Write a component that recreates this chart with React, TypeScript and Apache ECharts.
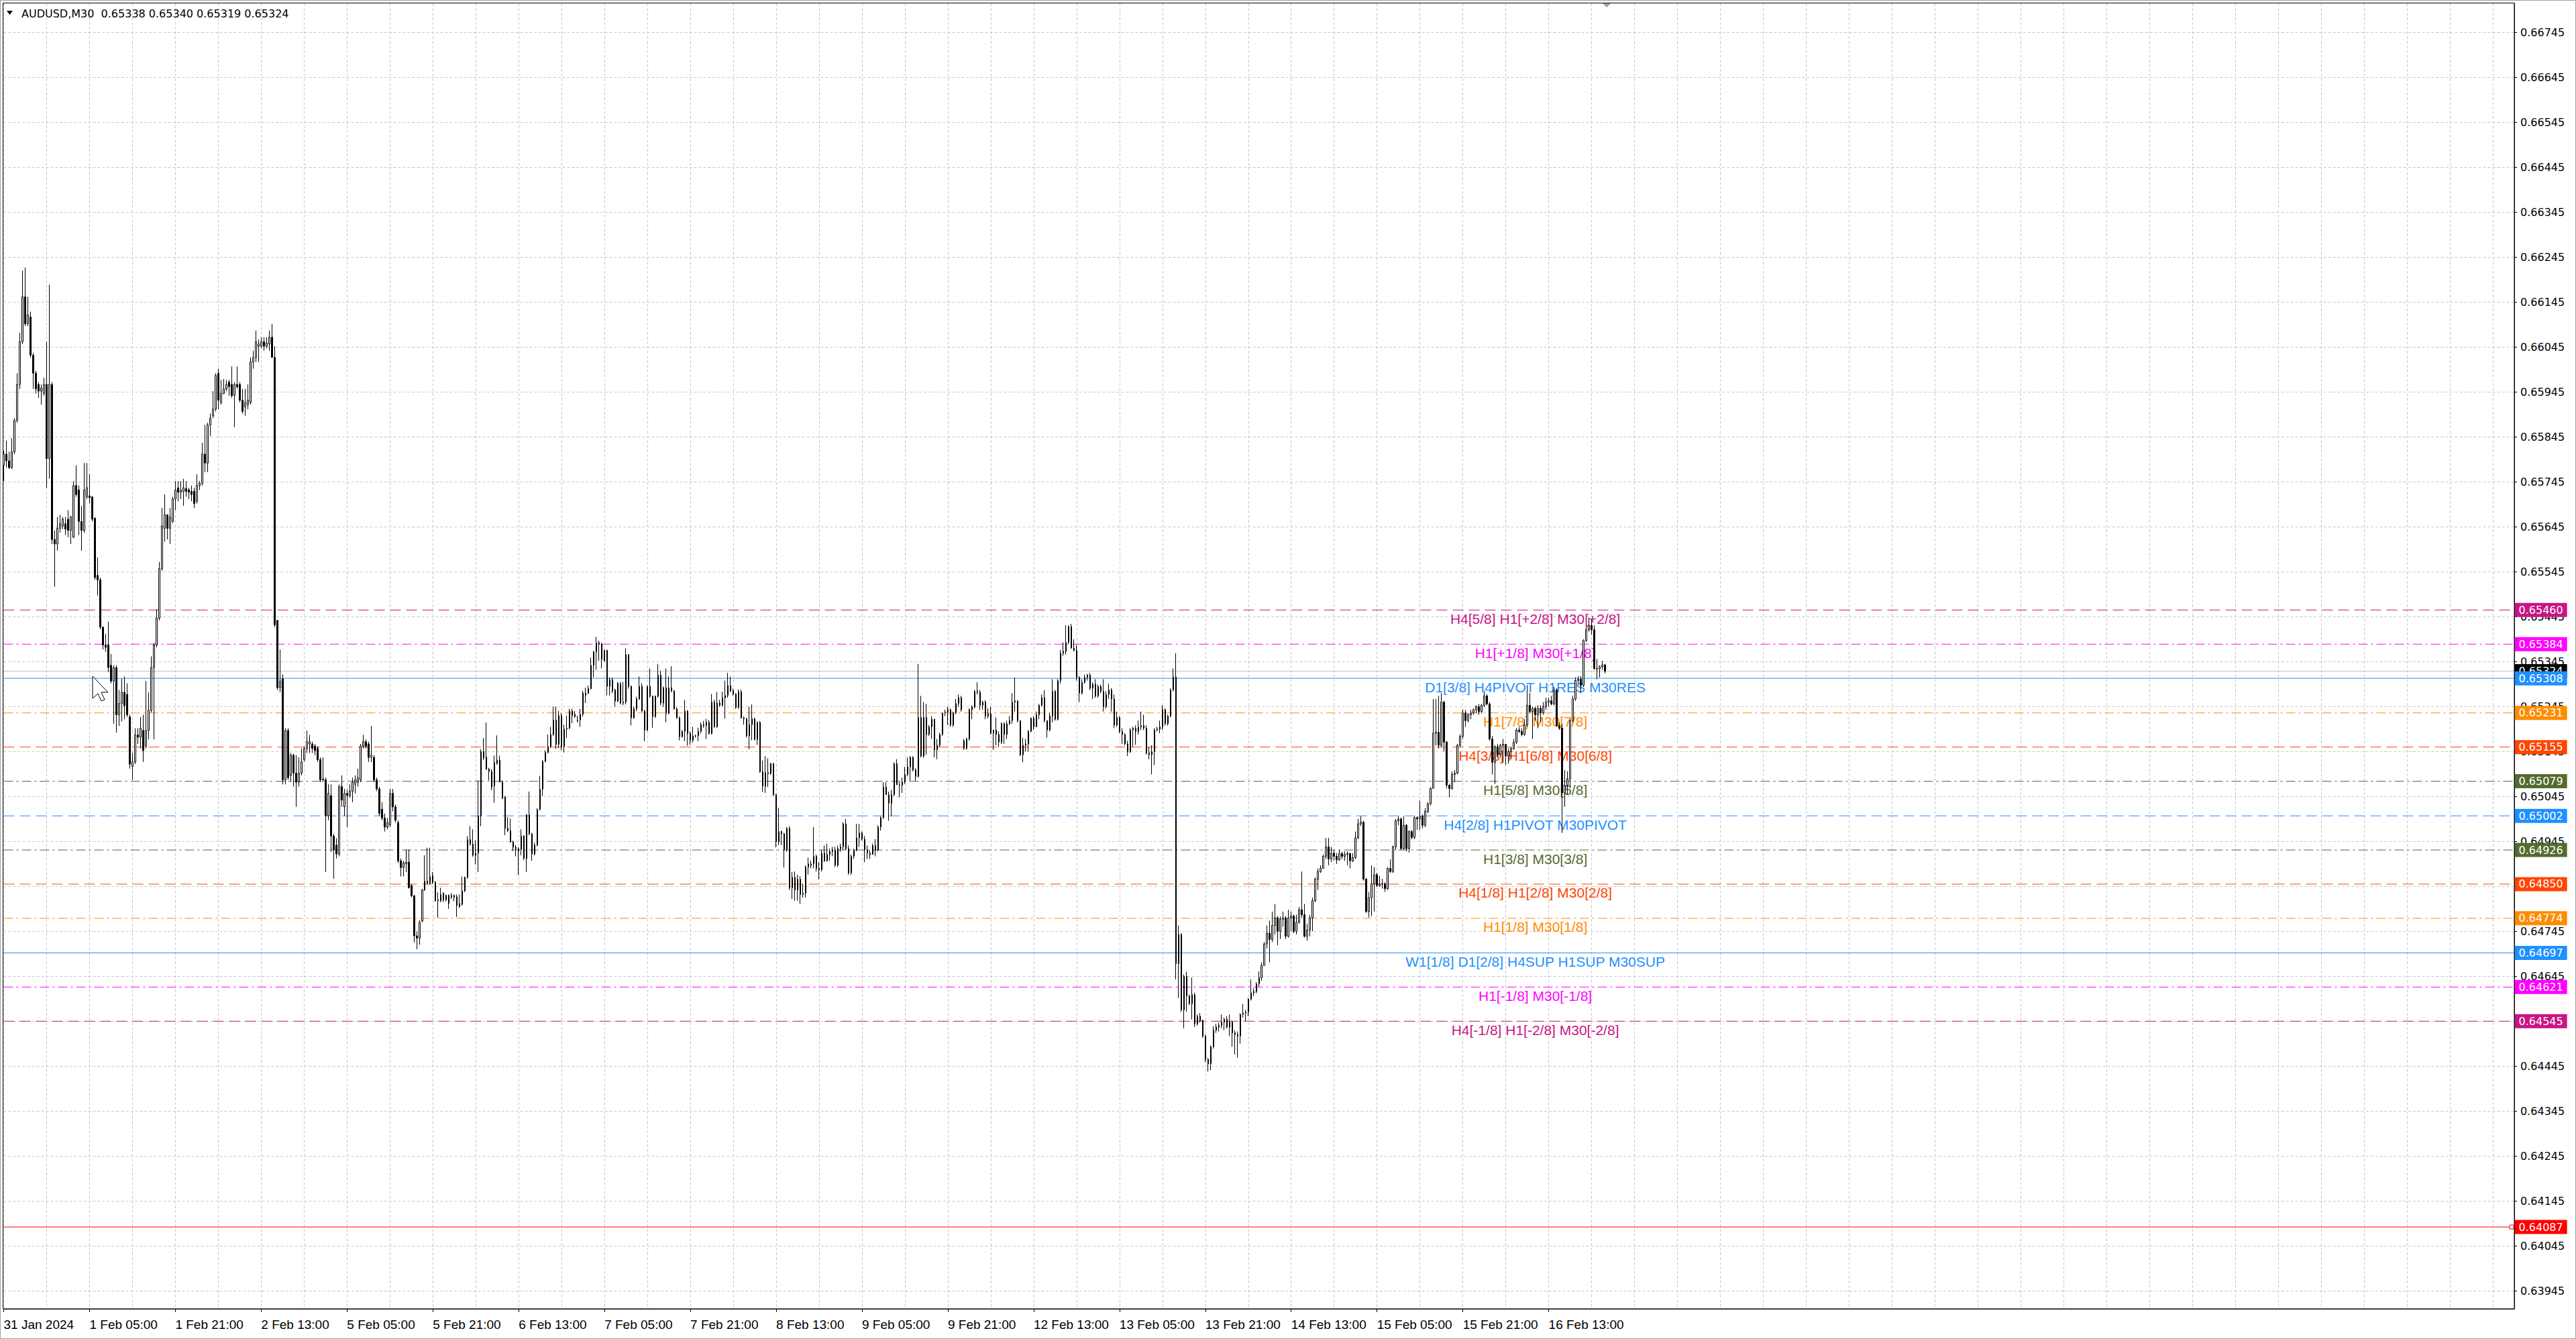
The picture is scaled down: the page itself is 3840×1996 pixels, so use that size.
import React, { useEffect, useRef } from 'react';
import * as echarts from 'echarts';

const TITLE = 'AUDUSD,M30  0.65338 0.65340 0.65319 0.65324';

const TIME_LABELS = [
  '31 Jan 2024', '1 Feb 05:00', '1 Feb 21:00', '2 Feb 13:00', '5 Feb 05:00', '5 Feb 21:00',
  '6 Feb 13:00', '7 Feb 05:00', '7 Feb 21:00', '8 Feb 13:00', '9 Feb 05:00', '9 Feb 21:00',
  '12 Feb 13:00', '13 Feb 05:00', '13 Feb 21:00', '14 Feb 13:00', '15 Feb 05:00', '15 Feb 21:00',
  '16 Feb 13:00',
];
const BARS_PER_LABEL = 32;
const SLOT_COUNT = 937;

const PRICE_TICKS = [
  0.63945, 0.64045, 0.64145, 0.64245, 0.64345, 0.64445, 0.64545, 0.64645, 0.64745, 0.64845,
  0.64945, 0.65045, 0.65145, 0.65245, 0.65345, 0.65445, 0.65545, 0.65645, 0.65745, 0.65845,
  0.65945, 0.66045, 0.66145, 0.66245, 0.66345, 0.66445, 0.66545, 0.66645, 0.66745,
];
const Y_MIN = 0.63905;
const Y_MAX = 0.6681;

// M30 candles, in points (1 point = 0.00001): [open, high, low, close]
const CANDLES = [
  [65782,65814,65747,65807],[65807,65837,65777,65792],[65792,65812,65774,65777],[65777,65842,65774,65812],
  [65812,65887,65807,65882],[65882,65987,65877,65962],[65962,66077,65952,66057],[66057,66215,66052,66157],
  [66157,66222,66092,66097],[66097,66157,66092,66117],[66112,66124,66022,66027],[66027,66032,65952,65987],
  [65987,65992,65942,65952],[65962,65967,65932,65947],[65947,65962,65917,65954],[65942,65977,65937,65962],
  [65962,66057,65732,65797],[65797,66184,65752,65962],[65962,65967,65607,65617],[65617,65637,65512,65607],
  [65607,65667,65592,65642],[65642,65672,65632,65652],[65647,65667,65640,65662],[65652,65667,65627,65640],
  [65662,65682,65622,65637],[65637,65670,65607,65667],[65622,65747,65620,65737],[65737,65782,65712,65717],
  [65727,65737,65627,65657],[65657,65692,65592,65637],[65637,65787,65632,65727],[65712,65787,65707,65732],
  [65714,65762,65697,65710],[65712,65712,65657,65662],[65664,65667,65527,65532],[65537,65577,65492,65527],
  [65527,65532,65417,65422],[65422,65422,65372,65382],[65382,65407,65367,65377],[65382,65434,65322,65332],
  [65337,65362,65297,65302],[65302,65337,65207,65332],[65332,65337,65187,65227],[65227,65282,65202,65252],
  [65252,65307,65212,65277],[65277,65312,65217,65247],[65272,65297,65222,65227],[65222,65227,65107,65117],
  [65112,65142,65082,65122],[65122,65197,65117,65182],[65182,65197,65162,65177],[65177,65222,65152,65197],
  [65192,65227,65122,65147],[65157,65302,65152,65192],[65192,65277,65172,65237],[65237,65357,65232,65332],
  [65332,65387,65172,65382],[65382,65462,65377,65442],[65442,65567,65437,65552],[65552,65687,65547,65647],
  [65642,65717,65612,65672],[65672,65672,65617,65642],[65642,65687,65607,65667],[65657,65712,65654,65707],
  [65707,65747,65682,65727],[65732,65747,65702,65722],[65722,65747,65707,65727],[65724,65752,65692,65732],
  [65730,65747,65712,65724],[65727,65732,65707,65722],[65724,65737,65702,65717],[65724,65732,65687,65697],
  [65702,65762,65697,65737],[65737,65747,65727,65742],[65742,65832,65737,65807],[65807,65872,65767,65787],
  [65787,65877,65767,65872],[65872,65897,65847,65887],[65892,65947,65887,65907],[65907,65987,65902,65982],
  [65987,65997,65907,65927],[65922,65972,65917,65942],[65942,65974,65940,65952],[65952,65972,65947,65962],
  [65967,65972,65937,65957],[65962,66002,65932,65937],[65937,65967,65867,65962],[65962,66002,65952,65957],
  [65962,65967,65922,65927],[65927,65952,65897,65902],[65912,65952,65892,65922],[65917,65962,65907,65927],
  [65922,66022,65917,66012],[66012,66037,65997,66022],[66022,66082,66012,66057],[66047,66062,66012,66052],
  [66047,66067,66042,66057],[66057,66067,66037,66047],[66047,66067,66042,66054],[66052,66082,66037,66067],
  [66067,66097,66022,66022],[66022,66047,65422,65427],[65437,65437,65282,65287],[65287,65372,65277,65302],
  [65307,65317,65072,65082],[65082,65197,65072,65192],[65192,65197,65082,65087],[65092,65142,65077,65137],
  [65137,65140,65067,65097],[65097,65137,65022,65077],[65077,65132,65067,65097],[65097,65152,65092,65122],
  [65127,65157,65122,65152],[65152,65192,65142,65167],[65162,65182,65142,65167],[65162,65167,65142,65152],
  [65157,65162,65137,65147],[65152,65157,65122,65127],[65127,65132,65077,65082],[65082,65132,65077,65084],
  [65082,65087,64877,65002],[65002,65072,64992,65052],[65047,65072,64922,64957],[64957,64962,64862,64927],
  [64937,64952,64907,64917],[64917,65072,64912,65067],[65067,65092,65022,65037],[65022,65062,65002,65052],
  [65052,65060,64977,65047],[65047,65072,65042,65057],[65057,65087,65032,65077],[65072,65092,65052,65082],
  [65077,65107,65067,65087],[65082,65162,65077,65157],[65157,65182,65152,65167],[65167,65172,65152,65157],
  [65162,65167,65122,65132],[65132,65202,65122,65137],[65132,65137,65077,65082],[65082,65087,65057,65062],
  [65062,65067,65002,65007],[65017,65032,64992,64997],[64997,65007,64967,64977],[64977,64997,64972,64987],
  [64982,65062,64977,65052],[65052,65062,65012,65022],[65022,65027,64987,64992],[64987,64992,64897,64902],
  [64902,64907,64867,64887],[64887,64902,64867,64897],[64895,64927,64877,64899],[64899,64927,64840,64842],
  [64847,64850,64821,64824],[64824,64826,64720,64735],[64735,64745,64705,64730],[64730,64770,64715,64765],
  [64768,64840,64765,64837],[64837,64914,64835,64857],[64852,64931,64849,64857],[64852,64931,64849,64867],
  [64869,64877,64851,64854],[64854,64857,64811,64813],[64815,64832,64775,64813],[64813,64842,64810,64827],
  [64830,64832,64810,64815],[64815,64827,64812,64825],[64825,64827,64795,64807],[64821,64830,64817,64825],
  [64821,64827,64812,64825],[64822,64827,64777,64802],[64800,64827,64797,64807],[64805,64867,64802,64835],
  [64835,64867,64832,64865],[64865,64957,64862,64949],[64949,64979,64936,64939],[64939,64972,64911,64914],
  [64914,64947,64894,64919],[64919,65081,64877,65001],[65001,65150,64979,65145],[65145,65175,65126,65131],
  [65133,65210,65104,65106],[65106,65109,65081,65101],[65101,65106,65059,65066],[65069,65136,65031,65121],
  [65118,65181,65116,65126],[65126,65136,65076,65078],[65078,65081,65039,65041],[65044,65046,64959,64974],
  [64974,64999,64966,64969],[64969,64996,64942,64944],[64944,64947,64924,64932],[64932,64937,64912,64929],
  [64924,64932,64870,64929],[64927,64972,64914,64957],[64957,64959,64904,64907],[64907,65006,64877,65004],
  [65004,65056,64959,64962],[64962,64964,64902,64917],[64917,64942,64914,64937],[64937,65019,64934,65016],
  [65016,65091,65014,65061],[65061,65126,65046,65123],[65123,65148,65121,65143],[65143,65183,65141,65156],
  [65156,65200,65153,65183],[65183,65245,65180,65215],[65215,65245,65151,65161],[65161,65235,65153,65225],
  [65225,65230,65148,65156],[65156,65205,65143,65195],[65195,65225,65175,65197],[65197,65240,65195,65235],
  [65225,65240,65208,65235],[65228,65235,65220,65223],[65213,65225,65210,65215],[65215,65240,65200,65228],
  [65228,65280,65223,65275],[65270,65287,65253,65275],[65275,65292,65273,65285],[65285,65354,65283,65337],
  [65337,65369,65310,65367],[65367,65400,65327,65387],[65387,65392,65347,65384],[65384,65387,65330,65350],
  [65347,65372,65345,65370],[65370,65372,65270,65290],[65290,65310,65270,65305],[65305,65310,65275,65280],
  [65282,65285,65245,65257],[65257,65300,65255,65297],[65295,65300,65250,65253],[65253,65300,65248,65255],
  [65255,65375,65250,65361],[65361,65362,65285,65290],[65290,65292,65203,65220],[65220,65245,65218,65240],
  [65240,65267,65235,65262],[65262,65312,65260,65290],[65290,65297,65233,65235],[65235,65238,65168,65193],
  [65193,65292,65190,65290],[65290,65330,65265,65268],[65268,65270,65198,65223],[65223,65270,65220,65268],
  [65268,65340,65265,65315],[65315,65325,65248,65253],[65253,65290,65245,65287],[65287,65330,65210,65230],
  [65230,65312,65228,65287],[65287,65335,65277,65280],[65280,65282,65238,65240],[65240,65243,65218,65220],
  [65220,65223,65170,65178],[65178,65193,65176,65190],[65190,65260,65168,65235],[65235,65237,65158,65185],
  [65185,65190,65160,65170],[65170,65200,65165,65180],[65180,65183,65176,65180],[65180,65198,65168,65190],
  [65190,65210,65185,65205],[65205,65213,65198,65203],[65203,65218,65173,65210],[65210,65215,65183,65185],
  [65185,65273,65183,65255],[65255,65260,65198,65200],[65200,65278,65198,65253],[65253,65260,65245,65248],
  [65248,65278,65245,65265],[65265,65303,65218,65270],[65270,65320,65265,65292],[65292,65312,65277,65280],
  [65280,65285,65270,65273],[65273,65275,65240,65243],[65243,65283,65240,65278],[65278,65283,65218,65220],
  [65220,65223,65205,65218],[65218,65220,65176,65180],[65180,65245,65150,65205],[65205,65250,65170,65218],
  [65218,65220,65170,65172],[65172,65212,65160,65210],[65210,65213,65098,65100],[65100,65125,65055,65068],
  [65068,65135,65053,65098],[65098,65130,65066,65096],[65096,65120,65093,65118],[65118,65120,65046,65049],
  [65049,65051,64932,64944],[64944,65020,64937,64967],[64967,64969,64937,64962],[64962,64964,64887,64927],
  [64927,64977,64922,64974],[64974,64979,64837,64842],[64842,64877,64817,64865],[64865,64878,64813,64837],
  [64837,64871,64813,64861],[64861,64868,64806,64827],[64827,64850,64820,64830],[64830,64892,64820,64888],
  [64888,64909,64871,64895],[64892,64902,64885,64895],[64895,64977,64885,64912],[64912,64916,64878,64885],
  [64885,64899,64861,64882],[64882,64926,64878,64919],[64919,64936,64899,64902],[64902,64940,64900,64916],
  [64916,64929,64902,64923],[64923,64933,64912,64926],[64926,64933,64888,64892],[64892,64936,64888,64929],
  [64929,64940,64922,64933],[64933,64988,64926,64984],[64984,64995,64926,64929],[64929,64936,64871,64875],
  [64875,64916,64871,64912],[64912,64929,64906,64926],[64926,64984,64923,64953],[64953,64984,64933,64964],
  [64964,64967,64947,64950],[64950,64957,64899,64926],[64926,64936,64906,64919],[64919,64925,64906,64916],
  [64916,64940,64916,64936],[64936,64950,64912,64926],[64926,64981,64923,64977],[64977,65001,64969,64998],
  [64998,65077,64995,65066],[65066,65077,65049,65049],[65049,65056,64991,65030],[65030,65060,65001,65049],
  [65049,65121,65046,65118],[65118,65128,65071,65071],[65071,65077,65043,65070],[65070,65087,65053,65077],
  [65077,65111,65073,65094],[65094,65132,65090,65111],[65111,65135,65080,65132],[65132,65135,65101,65104],
  [65104,65108,65080,65090],[65090,65340,65087,65221],[65221,65269,65132,65135],[65135,65255,65131,65221],
  [65221,65251,65138,65183],[65183,65204,65180,65200],[65200,65224,65173,65217],[65217,65217,65132,65149],
  [65149,65173,65128,65159],[65159,65187,65155,65183],[65183,65231,65180,65231],[65231,65238,65224,65233],
  [65233,65245,65204,65238],[65238,65241,65200,65204],[65204,65234,65200,65231],[65231,65262,65228,65252],
  [65252,65272,65245,65265],[65265,65269,65234,65238],[65169,65173,65149,65152],[65152,65176,65149,65173],
  [65173,65241,65169,65238],[65238,65248,65217,65244],[65244,65282,65241,65279],[65279,65299,65272,65277],
  [65277,65282,65238,65248],[65248,65258,65238,65255],[65255,65259,65217,65224],[65224,65241,65219,65229],
  [65229,65245,65183,65186],[65186,65193,65149,65193],[65193,65221,65159,65183],[65183,65190,65155,65166],
  [65166,65210,65162,65207],[65207,65210,65162,65183],[65183,65214,65173,65207],[65207,65224,65204,65214],
  [65214,65275,65207,65255],[65255,65310,65234,65258],[65258,65258,65210,65214],[65214,65214,65135,65138],
  [65138,65176,65121,65159],[65159,65173,65145,65162],[65162,65193,65145,65190],[65190,65221,65188,65219],
  [65219,65224,65193,65200],[65200,65234,65200,65227],[65227,65251,65217,65248],[65248,65272,65245,65265],
  [65265,65282,65210,65214],[65214,65214,65176,65193],[65193,65231,65190,65224],[65224,65306,65210,65279],
  [65279,65282,65214,65217],[65217,65306,65214,65303],[65303,65371,65296,65364],[65364,65388,65358,65368],
  [65368,65426,65361,65388],[65388,65426,65385,65423],[65423,65429,65375,65375],[65375,65395,65368,65370],
  [65370,65382,65303,65310],[65310,65313,65255,65275],[65275,65306,65272,65299],[65299,65316,65296,65310],
  [65310,65318,65303,65315],[65315,65320,65282,65286],[65286,65299,65262,65295],[65295,65306,65265,65269],
  [65269,65294,65265,65290],[65290,65294,65275,65279],[65279,65306,65234,65245],[65245,65279,65241,65272],
  [65272,65296,65262,65282],[65282,65286,65234,65262],[65262,65272,65197,65204],[65204,65234,65200,65221],
  [65221,65224,65186,65190],[65190,65197,65162,65183],[65183,65186,65159,65162],[65162,65169,65135,65145],
  [65145,65197,65142,65193],[65193,65200,65156,65197],[65197,65203,65160,65190],[65190,65214,65183,65200],
  [65200,65234,65193,65203],[65203,65227,65193,65197],[65197,65203,65138,65142],[65142,65155,65128,65138],
  [65138,65159,65094,65145],[65145,65197,65115,65193],[65193,65200,65190,65195],[65195,65214,65186,65200],
  [65200,65248,65193,65238],[65238,65241,65203,65207],[65207,65227,65203,65224],[65224,65286,65221,65282],
  [65282,65330,65279,65311],[65311,65364,64638,64673],[64673,64758,64597,64738],[64738,64741,64566,64570],
  [64570,64649,64529,64645],[64645,64655,64566,64601],[64601,64604,64581,64584],[64584,64642,64549,64604],
  [64604,64608,64532,64539],[64539,64560,64535,64556],[64556,64563,64542,64546],[64546,64549,64508,64512],
  [64512,64515,64454,64460],[64460,64463,64433,64450],[64450,64491,64436,64488],[64488,64534,64484,64525],
  [64525,64539,64519,64532],[64532,64542,64522,64536],[64536,64560,64529,64543],[64543,64553,64525,64549],
  [64549,64556,64529,64532],[64532,64560,64512,64543],[64543,64546,64488,64519],[64519,64525,64471,64515],
  [64515,64522,64464,64512],[64512,64563,64495,64560],[64560,64583,64553,64563],[64563,64570,64545,64565],
  [64565,64597,64556,64594],[64594,64638,64591,64608],[64608,64618,64601,64611],[64611,64632,64607,64628],
  [64628,64656,64622,64642],[64642,64676,64635,64669],[64669,64721,64669,64717],[64717,64758,64707,64741],
  [64741,64769,64676,64727],[64727,64789,64721,64758],[64758,64806,64738,64775],[64775,64779,64714,64745],
  [64745,64778,64728,64772],[64772,64789,64755,64775],[64775,64779,64728,64734],[64734,64793,64731,64775],
  [64775,64789,64745,64779],[64779,64782,64741,64745],[64745,64782,64738,64765],[64765,64799,64762,64793],
  [64793,64878,64775,64782],[64782,64806,64731,64734],[64734,64762,64724,64748],[64748,64782,64734,64775],
  [64775,64820,64745,64813],[64813,64865,64810,64861],[64861,64885,64837,64878],[64878,64892,64875,64885],
  [64885,64916,64885,64912],[64912,64953,64906,64933],[64933,64953,64892,64906],[64906,64933,64899,64919],
  [64919,64926,64902,64912],[64912,64919,64895,64904],[64904,64926,64902,64918],[64918,64922,64906,64912],
  [64912,64923,64902,64916],[64916,64923,64892,64918],[64918,64920,64885,64902],[64902,64919,64899,64909],
  [64909,64967,64906,64953],[64953,64995,64950,64984],[64984,65001,64979,64988],[64988,64991,64858,64861],
  [64861,64864,64786,64789],[64789,64833,64776,64820],[64820,64892,64779,64851],[64851,64888,64789,64871],
  [64871,64875,64844,64847],[64847,64868,64844,64850],[64850,64862,64840,64851],[64851,64854,64833,64840],
  [64840,64888,64837,64885],[64885,64905,64875,64878],[64878,64936,64875,64933],[64933,64995,64926,64991],
  [64991,65001,64981,64995],[64995,64998,64926,64929],[64929,65001,64926,64981],[64981,64984,64923,64929],
  [64929,64970,64920,64967],[64967,64970,64950,64954],[64954,65001,64950,64998],[64998,65001,64971,64995],
  [64995,65036,64971,65001],[65001,65005,64974,64981],[64981,65019,64977,65012],[65012,65032,65008,65029],
  [65029,65066,65025,65063],[65063,65262,65063,65186],[65186,65262,65159,65188],[65188,65269,65152,65159],
  [65159,65275,65155,65255],[65255,65258,65145,65166],[65166,65169,65063,65070],[65070,65073,65043,65063],
  [65063,65101,65060,65094],[65094,65104,65077,65097],[65097,65162,65094,65159],[65159,65183,65155,65179],
  [65179,65238,65173,65231],[65231,65238,65200,65214],[65214,65231,65210,65227],[65227,65238,65217,65231],
  [65231,65241,65227,65238],[65238,65248,65231,65245],[65245,65251,65227,65234],[65234,65251,65230,65248],
  [65248,65279,65244,65269],[65269,65272,65248,65251],[65251,65255,65169,65173],[65173,65180,65094,65121],
  [65121,65159,65073,65156],[65156,65162,65132,65138],[65138,65162,65132,65159],[65159,65173,65121,65161],
  [65161,65162,65115,65135],[65135,65152,65118,65145],[65145,65155,65128,65152],[65152,65173,65149,65166],
  [65166,65197,65162,65193],[65193,65200,65186,65190],[65190,65197,65179,65183],[65183,65217,65180,65204],
  [65204,65293,65200,65248],[65248,65275,65231,65234],[65234,65245,65173,65241],[65241,65245,65214,65227],
  [65227,65248,65197,65241],[65241,65248,65210,65231],[65231,65255,65227,65245],[65245,65265,65238,65255],
  [65255,65265,65245,65258],[65258,65269,65248,65251],[65251,65289,65248,65282],[65282,65286,65200,65203],
  [65203,65210,65193,65197],[65197,65207,64964,65053],[65053,65104,65022,65070],[65070,65101,65049,65084],
  [65084,65217,65063,65214],[65214,65269,65210,65262],[65262,65310,65258,65303],[65303,65313,65296,65306],
  [65306,65313,65275,65292],[65292,65395,65289,65392],[65392,65423,65389,65416],[65416,65443,65412,65426],
  [65426,65440,65405,65416],[65416,65426,65327,65330],[65330,65351,65306,65329],[65329,65337,65310,65334],
  [65334,65347,65327,65338],[65338,65340,65319,65324],
];

const LEVEL_PRICES = [0.6546, 0.65384, 0.65308, 0.65231, 0.65155, 0.65079, 0.65002, 0.64926, 0.6485, 0.64774, 0.64697, 0.64621, 0.64545];
const LEVEL_TEXTS = [
  'H4[5/8] H1[+2/8] M30[+2/8]',
  'H1[+1/8] M30[+1/8]',
  'D1[3/8] H4PIVOT H1RES M30RES',
  'H1[7/8] M30[7/8]',
  'H4[3/8] H1[6/8] M30[6/8]',
  'H1[5/8] M30[5/8]',
  'H4[2/8] H1PIVOT M30PIVOT',
  'H1[3/8] M30[3/8]',
  'H4[1/8] H1[2/8] M30[2/8]',
  'H1[1/8] M30[1/8]',
  'W1[1/8] D1[2/8] H4SUP H1SUP M30SUP',
  'H1[-1/8] M30[-1/8]',
  'H4[-1/8] H1[-2/8] M30[-2/8]',
];
const LEVEL_COLORS = ['#C71585', '#FF00FF', '#1E90FF', '#FF8C00', '#FF4500', '#556B2F', '#1E90FF', '#556B2F', '#FF4500', '#FF8C00', '#1E90FF', '#FF00FF', '#C71585'];
const LEVEL_STYLES = ['dash', 'dashdot', 'solid', 'dashdot', 'dash', 'dashdot', 'dash', 'dashdot', 'dash', 'dashdot', 'solid', 'dashdot', 'dash'];

const BID_PRICE = 0.65324;
const ALERT_PRICE = 0.64087;

const LABEL_SLOT = 571;
const LAST_LABELED_SLOT = (TIME_LABELS.length - 1) * BARS_PER_LABEL;

const GRID_LEFT = 5.5;
const GRID_TOP = 5;
const GRID_WIDTH = 3742.5;
const GRID_HEIGHT = 1946;

const TAG_FONT = 'DejaVu Sans';
const LABEL_FONT = '"Liberation Sans", Arial, sans-serif';

export default function App() {
  const ref = useRef<HTMLDivElement>(null);

  useEffect(() => {
    if (!ref.current) return;
    const chart = echarts.init(ref.current, null, { renderer: 'svg' });

    const cats = Array.from({ length: SLOT_COUNT }, (_, i) => String(i));
    const candleData = CANDLES.map(([o, h, l, c]) => [o / 1e5, c / 1e5, l / 1e5, h / 1e5]);

    const dashOf = (s: string): any =>
      s === 'dash' ? [16, 8] : s === 'dashdot' ? [14, 5, 3, 5] : 'solid';

    const hLine = (p: number, color: string, type: any) => ({
      type: 'line',
      z: 1,
      silent: true,
      symbol: 'none',
      animation: false,
      data: [[0, p], [SLOT_COUNT - 1, p]],
      lineStyle: { color, width: 1, type, opacity: 1 },
    });

    const lineSeries: any[] = [];
    lineSeries.push(hLine(BID_PRICE, '#C0C0C0', 'solid'));
    LEVEL_PRICES.forEach((p, i) => lineSeries.push(hLine(p, LEVEL_COLORS[i], dashOf(LEVEL_STYLES[i]))));
    lineSeries.push(hLine(ALERT_PRICE, '#FF0000', 'solid'));

    const tagItem = (p: number, bg: string) => ({
      value: [SLOT_COUNT - 1, p],
      label: {
        show: true,
        position: 'right',
        distance: 0,
        formatter: p.toFixed(5),
        color: '#ffffff',
        backgroundColor: bg,
        padding: [3, 6, 2, 6],
        fontFamily: TAG_FONT,
        fontSize: 16,
        opacity: 1,
      },
    });
    const tagData: any[] = [tagItem(BID_PRICE, '#000000')];
    LEVEL_PRICES.forEach((p, i) => tagData.push(tagItem(p, LEVEL_COLORS[i])));
    tagData.push(tagItem(ALERT_PRICE, '#FF0000'));

    const option: any = {
      animation: false,
      backgroundColor: '#ffffff',
      grid: { left: GRID_LEFT, top: GRID_TOP, width: GRID_WIDTH, height: GRID_HEIGHT, containLabel: false },
      xAxis: {
        type: 'category',
        data: cats,
        boundaryGap: false,
        axisLine: { show: true, lineStyle: { color: '#000000', width: 1 } },
        axisTick: {
          show: true,
          interval: (idx: number) => idx % BARS_PER_LABEL === 0 && idx <= LAST_LABELED_SLOT,
          length: 5,
          lineStyle: { color: '#000000' },
        },
        axisLabel: {
          show: true,
          interval: (idx: number) => idx % BARS_PER_LABEL === 0 && idx <= LAST_LABELED_SLOT,
          align: 'left',
          margin: 14,
          color: '#000000',
          fontFamily: LABEL_FONT,
          fontSize: 19,
          formatter: (_v: string, idx: number) => {
            const k = idx / BARS_PER_LABEL;
            return Number.isInteger(k) && TIME_LABELS[k] ? TIME_LABELS[k] : '';
          },
        },
        splitLine: { show: true, interval: 15, lineStyle: { color: '#C8C8C8', width: 1, type: [4, 3] } },
      },
      yAxis: {
        type: 'value',
        position: 'right',
        min: Y_MIN,
        max: Y_MAX,
        scale: true,
        axisLine: { show: true, lineStyle: { color: '#000000', width: 1 } },
        axisTick: { show: true, length: 4, customValues: PRICE_TICKS, lineStyle: { color: '#000000' } },
        axisLabel: {
          show: true,
          customValues: PRICE_TICKS,
          margin: 9,
          color: '#000000',
          fontFamily: TAG_FONT,
          fontSize: 16,
          formatter: (v: number) => v.toFixed(5),
        },
        splitLine: { show: true, lineStyle: { color: '#C8C8C8', width: 1, type: [4, 3] } },
      },
      series: [
        ...lineSeries,
        {
          type: 'scatter',
          z: 2,
          silent: true,
          symbol: 'circle',
          symbolSize: 1,
          itemStyle: { color: 'rgba(0,0,0,0)', opacity: 1 },
          data: LEVEL_PRICES.map((p, i) => ({
            value: [LABEL_SLOT, p],
            label: {
              show: true,
              position: 'inside',
              offset: [0, 13],
              formatter: LEVEL_TEXTS[i],
              color: LEVEL_COLORS[i],
              fontFamily: LABEL_FONT,
              fontSize: 21,
              opacity: 1,
            },
          })),
        },
        {
          type: 'candlestick',
          z: 3,
          data: candleData,
          barWidth: 2,
          clip: false,
          large: false,
          silent: true,
          itemStyle: {
            color: '#FFFFFF',
            color0: '#000000',
            borderColor: '#000000',
            borderColor0: '#000000',
            borderWidth: 1,
            opacity: 1,
          },
        },
        {
          type: 'scatter',
          z: 5,
          silent: true,
          symbol: 'rect',
          symbolSize: 6,
          clip: false,
          itemStyle: { color: '#FFFFFF', borderColor: '#FF0000', borderWidth: 1, opacity: 1 },
          data: [[SLOT_COUNT - 2, ALERT_PRICE]],
        },
        {
          type: 'scatter',
          z: 6,
          silent: true,
          symbol: 'circle',
          symbolSize: 1,
          clip: false,
          itemStyle: { color: 'rgba(0,0,0,0)', opacity: 1 },
          data: tagData,
        },
      ],
      graphic: [
        {
          type: 'rect',
          z: 50,
          silent: true,
          shape: { x: 0.5, y: 0.5, width: 3839, height: 1995 },
          style: { fill: 'none', stroke: '#A0A0A0', lineWidth: 1 },
        },
        {
          type: 'rect',
          z: 50,
          silent: true,
          shape: { x: 4.5, y: 4.5, width: 3743.5, height: 1946.5 },
          style: { fill: 'none', stroke: '#000000', lineWidth: 1 },
        },
        {
          type: 'polygon',
          z: 50,
          silent: true,
          shape: { points: [[10, 16], [19, 16], [14.5, 22]] },
          style: { fill: '#000000' },
        },
        {
          type: 'text',
          z: 50,
          silent: true,
          x: 32,
          y: 20,
          style: {
            text: TITLE,
            fontFamily: TAG_FONT,
            fontSize: 16,
            fill: '#000000',
            verticalAlign: 'middle',
            align: 'left',
          },
        },
        {
          type: 'polygon',
          z: 50,
          silent: true,
          shape: { points: [[2389, 5], [2401, 5], [2395, 11]] },
          style: { fill: '#A0A0A0' },
        },
        {
          type: 'polygon',
          z: 50,
          silent: true,
          shape: {
            points: [[138, 1008], [138, 1041], [146, 1034], [151, 1045], [156, 1043], [151, 1032], [161, 1032]],
          },
          style: { fill: '#FFFFFF', stroke: '#000000', lineWidth: 1 },
        },
      ],
    };

    chart.setOption(option);
    return () => {
      chart.dispose();
    };
  }, []);

  return (
    <div
      ref={ref}
      style={{ position: 'fixed', left: 0, top: 0, width: 3840, height: 1996, background: '#ffffff' }}
    />
  );
}
